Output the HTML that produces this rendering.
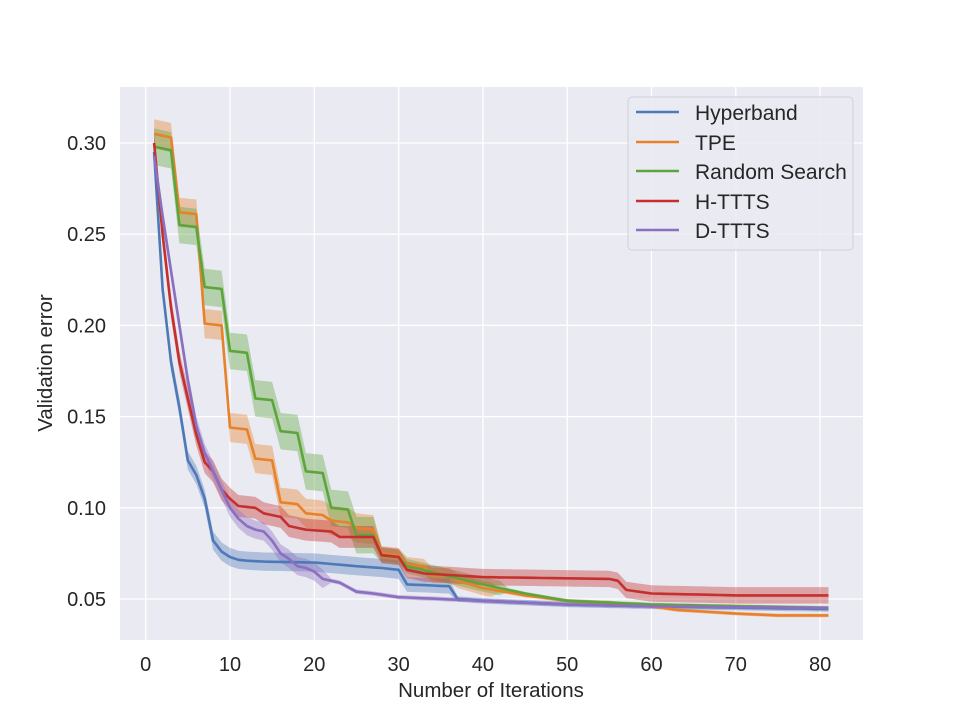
<!DOCTYPE html>
<html><head><meta charset="utf-8"><style>
body{margin:0;background:#fff;}
svg{display:block;font-family:"Liberation Sans","DejaVu Sans",sans-serif;}
</style></head><body>
<svg id="s" width="960" height="720" xmlns="http://www.w3.org/2000/svg">
<rect x="120" y="87" width="743" height="553" fill="#eaeaf2"/>
<g id="grid" stroke="#fff" stroke-width="1.3"></g>
<g id="bands"></g>
<g id="lines" fill="none" stroke-width="2.6" stroke-linejoin="round"></g>
<g id="ticks" fill="#262626" font-size="20"></g>
<text x="491" y="697" text-anchor="middle" font-size="20.5" fill="#262626">Number of Iterations</text>
<text transform="translate(52,363) rotate(-90)" text-anchor="middle" font-size="20.5" fill="#262626">Validation error</text>
<rect x="628" y="97" width="225" height="153" rx="4" fill="#eaeaf2" fill-opacity="0.85" stroke="#d0d0d8" stroke-width="1"/>
<g font-size="21" fill="#262626">
<line x1="636" y1="112" x2="679" y2="112" stroke="#4e79b7" stroke-width="2.6"/><text x="695" y="120">Hyperband</text>
<line x1="636" y1="142" x2="679" y2="142" stroke="#e8822a" stroke-width="2.6"/><text x="695" y="150">TPE</text>
<line x1="636" y1="171" x2="679" y2="171" stroke="#5da53b" stroke-width="2.6"/><text x="695" y="179">Random Search</text>
<line x1="636" y1="201" x2="679" y2="201" stroke="#c4302e" stroke-width="2.6"/><text x="695" y="209">H-TTTS</text>
<line x1="636" y1="230" x2="679" y2="230" stroke="#8b6fc0" stroke-width="2.6"/><text x="695" y="238">D-TTTS</text>
</g>
</svg>
<script>
const X=v=>145.7+v*8.43, Y=v=>599-(v-0.05)*1824;
const NS="http://www.w3.org/2000/svg";
function el(p,t,a,txt){const e=document.createElementNS(NS,t);for(const k in a)e.setAttribute(k,a[k]);if(txt)e.textContent=txt;document.getElementById(p).appendChild(e);}
for(let i=0;i<=80;i+=10){el('grid','line',{x1:X(i),x2:X(i),y1:87,y2:640});el('ticks','text',{x:X(i),y:671,'text-anchor':'middle'},String(i));}
[0.05,0.10,0.15,0.20,0.25,0.30].forEach(v=>{el('grid','line',{x1:120,x2:863,y1:Y(v),y2:Y(v)});el('ticks','text',{x:106,y:Y(v)+7,'text-anchor':'end'},v.toFixed(2));});
function interp(pts){const o=[];for(let x=1;x<=81;x++){let i=0;while(i<pts.length-2&&pts[i+1][0]<x)i++;const [x0,y0]=pts[i],[x1,y1]=pts[i+1];o.push([x,x>=x1?y1:y0+(y1-y0)*(x-x0)/(x1-x0)]);}return o;}
const S=[
{c:"#4e79b7",b:e=>e>0.06?0.005:(e>0.052?0.004:0.0015),p:[[1,0.295],[2,0.22],[3,0.18],[4,0.155],[5,0.126],[6,0.118],[7,0.105],[8,0.082],[9,0.076],[10,0.073],[11,0.0715],[12,0.071],[14,0.0705],[20,0.07],[25,0.068],[28,0.067],[30,0.066],[31,0.058],[36,0.057],[37,0.05],[40,0.049],[50,0.047],[60,0.046],[81,0.0445]]},
{c:"#e8822a",b:e=>e>0.08?0.008:(e>0.055?0.004:0.001),p:[[1,0.305],[3,0.303],[4,0.262],[6,0.261],[7,0.201],[9,0.2],[10,0.144],[12,0.143],[13,0.127],[15,0.126],[16,0.103],[18,0.102],[19,0.097],[21,0.096],[22,0.093],[24,0.092],[25,0.089],[27,0.088],[28,0.075],[30,0.074],[31,0.069],[33,0.068],[34,0.063],[36,0.063],[37,0.06],[40,0.056],[45,0.052],[50,0.049],[55,0.048],[60,0.046],[63,0.044],[70,0.042],[75,0.041],[81,0.041]]},
{c:"#5da53b",b:e=>e>0.08?0.01:(e>0.055?0.004:0.001),p:[[1,0.298],[3,0.296],[4,0.255],[6,0.254],[7,0.221],[9,0.22],[10,0.186],[12,0.185],[13,0.16],[15,0.159],[16,0.142],[18,0.141],[19,0.12],[21,0.119],[22,0.1],[24,0.099],[25,0.085],[27,0.085],[28,0.074],[30,0.073],[31,0.068],[40,0.058],[45,0.053],[50,0.049],[60,0.047],[81,0.045]]},
{c:"#c4302e",b:e=>e>0.08?0.006:0.0045,p:[[1,0.3],[2,0.25],[3,0.21],[4,0.18],[5,0.16],[6,0.14],[7,0.125],[8,0.12],[9,0.11],[10,0.105],[11,0.101],[13,0.1],[14,0.097],[16,0.095],[17,0.09],[19,0.088],[22,0.087],[23,0.084],[27,0.084],[28,0.074],[30,0.073],[31,0.066],[33,0.064],[40,0.062],[55,0.061],[56,0.06],[57,0.055],[60,0.053],[70,0.052],[81,0.052]]},
{c:"#8b6fc0",b:e=>e>0.06?0.005:0.0012,p:[[1,0.293],[2,0.26],[3,0.23],[4,0.2],[5,0.17],[6,0.145],[7,0.13],[8,0.12],[9,0.11],[10,0.1],[11,0.094],[12,0.09],[13,0.088],[14,0.087],[15,0.082],[16,0.075],[17,0.072],[18,0.068],[19,0.067],[20,0.065],[21,0.061],[22,0.06],[23,0.059],[25,0.054],[27,0.053],[30,0.051],[35,0.05],[40,0.049],[50,0.047],[60,0.046],[81,0.045]]}];
S.forEach(s=>{const d=interp(s.p);
const up=d.map(([x,y])=>X(x).toFixed(1)+","+Y(y+s.b(y)).toFixed(1));
const dn=d.slice().reverse().map(([x,y])=>X(x).toFixed(1)+","+Y(y-s.b(y)).toFixed(1));
el('bands','polygon',{points:up.concat(dn).join(" "),fill:s.c,'fill-opacity':0.38});
el('lines','polyline',{points:d.map(([x,y])=>X(x).toFixed(1)+","+Y(y).toFixed(1)).join(" "),stroke:s.c});});
</script>
</body></html>
